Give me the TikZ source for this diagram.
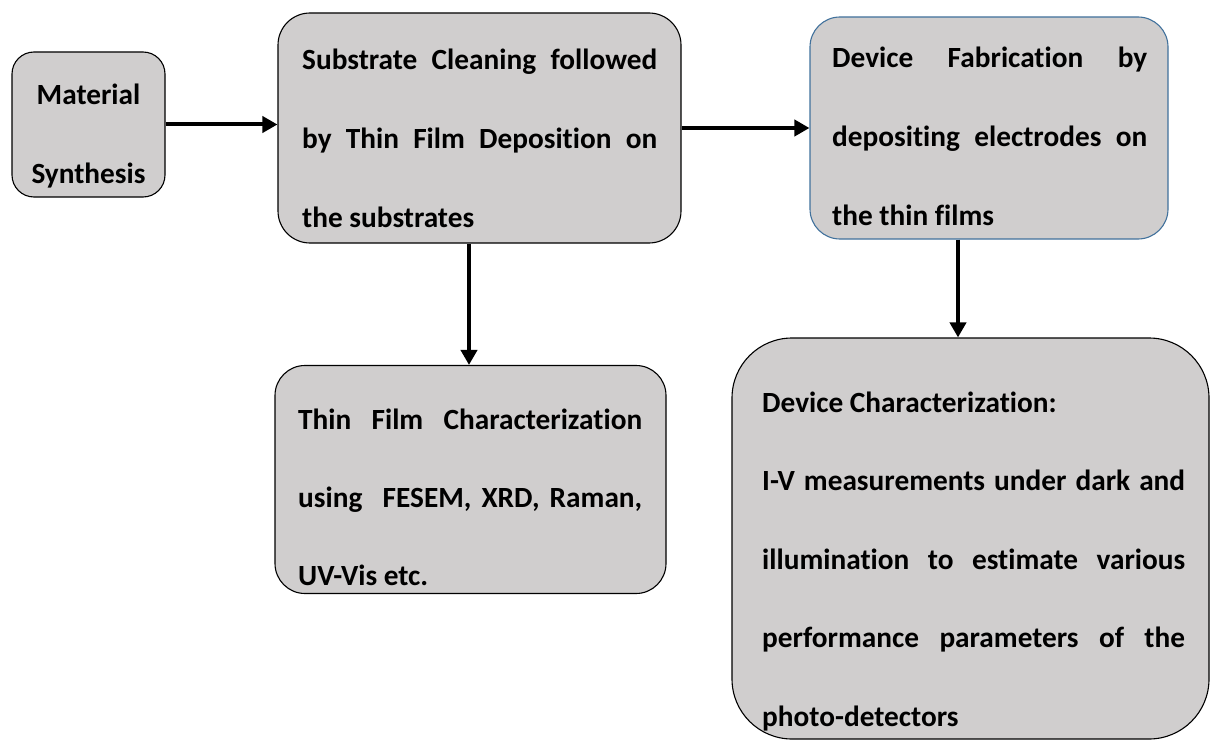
\documentclass[tikz,border=0pt]{standalone}
\usepackage{fontspec}
\setmainfont{Carlito}[Ligatures=NoCommon]
\usetikzlibrary{arrows.meta}
\definecolor{boxgray}{HTML}{D0CECE}
\definecolor{boxblue}{HTML}{41719C}
\newcommand{\jline}[1]{\makebox[\linewidth][s]{#1}}
\newcommand{\lline}[1]{\makebox[\linewidth][l]{#1}}
\newcommand{\boxfont}{\fontsize{29.3}{79}\selectfont\bfseries}
\begin{document}
\begin{tikzpicture}[x=1pt,y=-1pt,
  stepbox/.style={draw=black, line width=1.1pt, fill=boxgray, inner sep=0pt},
  boxtext/.style={inner sep=0pt, anchor=base west, font=\boxfont},
  flow/.style={line width=4pt, -{Triangle[length=15pt,width=16pt]}}]
\useasboundingbox (0,0) rectangle (1212,741);
% boxes
\node[stepbox, rounded corners=22pt, minimum width=153pt, minimum height=145pt] (A) at (88.5,124.5) {};
\node[stepbox, rounded corners=32pt, minimum width=403pt, minimum height=230pt] (B) at (479.5,128) {};
\node[stepbox, draw=boxblue, rounded corners=30pt, minimum width=358pt, minimum height=222pt] (C) at (989,128) {};
\node[stepbox, rounded corners=30pt, minimum width=391pt, minimum height=228pt] (D) at (470.5,479.5) {};
\node[stepbox, rounded corners=60pt, minimum width=477pt, minimum height=401pt] (E) at (970.5,538.5) {};
% texts
\node[boxtext, anchor=base, align=center] (At) at (88.5,183) {Material\\Synthesis};
\node[boxtext] (Bt) at (302,70) {\parbox[t]{355pt}{\boxfont
  \jline{Substrate Cleaning followed}\\
  \jline{by Thin Film Deposition on}\\
  \lline{the substrates}}};
\node[boxtext] (Ct) at (832,68) {\parbox[t]{315pt}{\boxfont
  \jline{Device Fabrication by}\\
  \jline{depositing electrodes on}\\
  \lline{the thin films}}};
\node[boxtext] (Dt) at (298,429) {\parbox[t]{344pt}{\fontsize{29.3}{78}\selectfont\bfseries
  \jline{Thin Film Characterization}\\
  \jline{using\ \ FESEM, XRD, Raman,}\\
  \lline{UV-Vis etc.}}};
\node[boxtext] (Et) at (762,412) {\parbox[t]{423pt}{\fontsize{29.3}{78.5}\selectfont\bfseries
  \lline{Device Characterization:}\\
  \jline{I-V measurements under dark and}\\
  \jline{illumination to estimate various}\\
  \jline{performance parameters of the}\\
  \lline{photo-detectors}}};
% connectors
\coordinate (BD) at (469,0);
\coordinate (CE) at (958,0);
\draw[flow] (A.east) -- (A.east -| B.west);
\draw[flow] (B.east) -- (C.west);
\draw[flow] (B.south -| BD) -- (D.north -| BD);
\draw[flow] (C.south -| CE) -- (E.north -| CE);
\end{tikzpicture}
\end{document}
